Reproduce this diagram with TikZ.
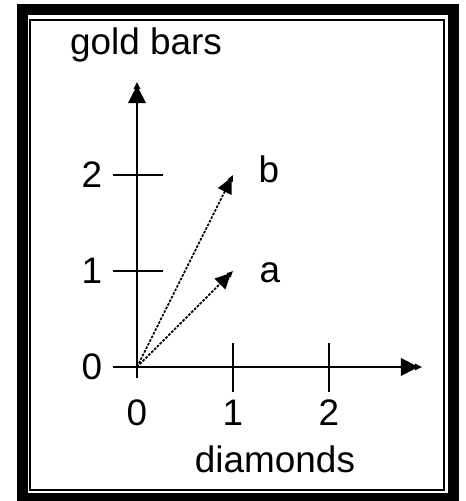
\documentclass[tikz,border=0pt]{standalone}
\usepackage{fontspec}
\setmainfont{Liberation Sans}
\usetikzlibrary{arrows.meta, positioning}
\tikzset{
	axisline/.style={
			line width=1.1pt,
			-{Triangle[width=10pt,length=10pt,sep=-2pt]Triangle[width=3.6pt,length=4pt]}
		},
	vecline/.style={
			line width=1pt,
			dash pattern=on 1.5pt off 0.8pt,
			-{Triangle[width=8.5pt,length=9pt,sep=-2pt]Triangle[width=3pt,length=3.5pt]}
		},
	tickline/.style={
			line width=1.1pt
		},
	labelnode/.style={
			font=\fontsize{21}{25}\selectfont,
			inner sep=0pt
		}
}

\begin{document}
\begin{tikzpicture}[x=1.92cm, y=1.92cm]
\useasboundingbox (-1.427,-1.396) rectangle (3.417,3.823);

% frame
\draw[line width=0.22cm] (-1.193,-1.375) rectangle (3.302,3.719);
\draw[line width=1.2pt] (-1.115,-1.281) rectangle (3.198,3.615);

\coordinate (O) at (0,0);
\coordinate (xstart) at (-0.25,0);
\coordinate (xend) at (2.969,0);
\coordinate (ystart) at (0,-0.11);
\coordinate (yend) at (0,2.969);

\draw[axisline] (xstart) -- (xend);
\draw[axisline] (ystart) -- (yend);

\foreach \i in {1,2} {
	\draw[tickline] (\i,0.25) -- (\i,-0.26);
	\draw[tickline] (-0.25,\i) -- (0.27,\i);
}

\foreach \i in {0,1,2} {
	\node[labelnode] (xnum\i) at (\i,-0.479) {\i};
	\node[labelnode] (ynum\i) at (-0.469,\i) {\i};
}

\node[labelnode, anchor=base] (ylabel) at (0.094,3.25) {gold bars};
\node[labelnode, anchor=base] (xlabel) at (1.4375,-1.094) {diamonds};

\coordinate (A) at (1,1);
\coordinate (B) at (1,2);
\node[labelnode, anchor=base] (alabel) at (1.385,0.885) {a};
\node[labelnode, anchor=base] (blabel) at (1.375,1.917) {b};

\draw[vecline] (O) -- (A);
\draw[vecline] (O) -- (B);

\end{tikzpicture}
\end{document}
